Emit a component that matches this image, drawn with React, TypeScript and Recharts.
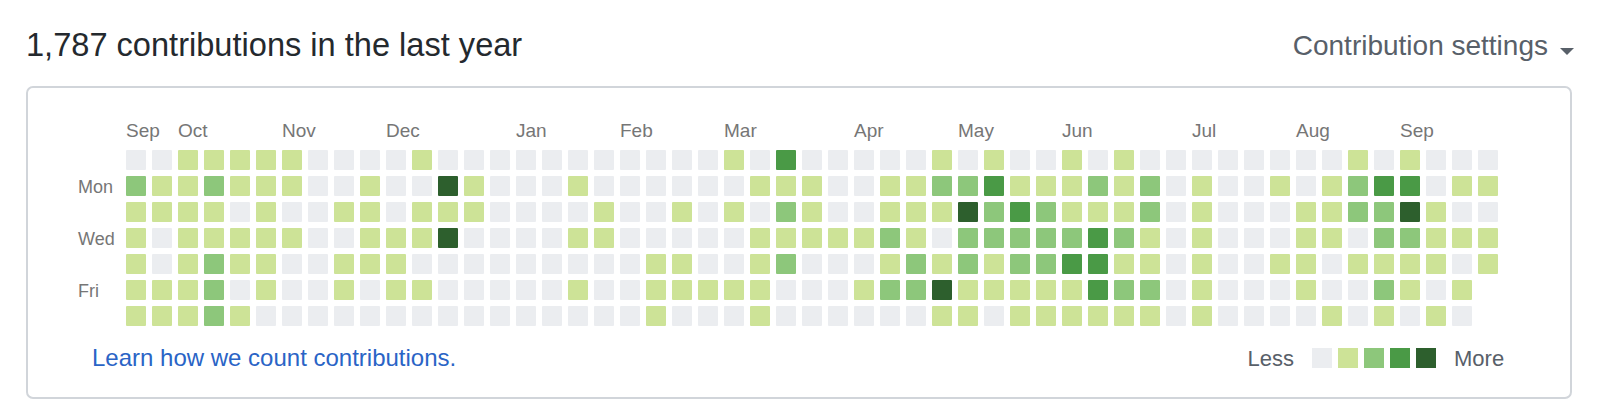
import React from "react";
import { ScatterChart, Scatter, XAxis, YAxis } from "recharts";

// contribution level (0-4) per week column, one array per weekday
const sunLevels = [0, 0, 1, 1, 1, 1, 1, 0, 0, 0, 0, 1, 0, 0, 0, 0, 0, 0, 0, 0, 0, 0, 0, 1, 0, 3, 0, 0, 0, 0, 0, 1, 0, 1, 0, 0, 1, 0, 1, 0, 0, 0, 0, 0, 0, 0, 0, 1, 0, 1, 0, 0, 0];
const monLevels = [2, 1, 1, 2, 1, 1, 1, 0, 0, 1, 0, 0, 4, 1, 0, 0, 0, 1, 0, 0, 0, 0, 0, 0, 1, 1, 1, 0, 0, 1, 1, 2, 2, 3, 1, 1, 1, 2, 1, 2, 0, 1, 0, 0, 1, 0, 1, 2, 3, 3, 0, 1, 1];
const tueLevels = [1, 1, 1, 1, 0, 1, 0, 0, 1, 1, 0, 1, 1, 1, 0, 0, 0, 0, 1, 0, 0, 1, 0, 1, 0, 2, 1, 0, 0, 1, 1, 1, 4, 2, 3, 2, 1, 1, 1, 2, 0, 1, 0, 0, 0, 1, 1, 2, 2, 4, 1, 0, 0];
const wedLevels = [1, 0, 1, 1, 1, 1, 1, 0, 0, 1, 1, 1, 4, 0, 0, 0, 0, 1, 1, 0, 0, 0, 0, 0, 1, 1, 1, 1, 1, 2, 1, 0, 2, 2, 2, 2, 2, 3, 2, 1, 0, 1, 0, 0, 0, 1, 1, 0, 2, 2, 1, 1, 1];
const thuLevels = [1, 0, 1, 2, 1, 1, 0, 0, 1, 1, 1, 0, 0, 0, 0, 0, 0, 0, 0, 0, 1, 1, 0, 0, 1, 2, 0, 0, 0, 1, 2, 1, 2, 1, 2, 2, 3, 3, 1, 1, 0, 1, 0, 0, 1, 1, 0, 1, 1, 1, 1, 0, 1];
const friLevels = [1, 1, 1, 2, 0, 1, 0, 0, 1, 0, 1, 1, 0, 0, 0, 0, 0, 1, 0, 0, 1, 1, 1, 1, 1, 0, 0, 0, 1, 2, 2, 4, 1, 1, 1, 1, 1, 3, 2, 2, 0, 1, 0, 0, 0, 1, 0, 0, 2, 1, 0, 1, null];
const satLevels = [1, 1, 1, 2, 1, 0, 0, 0, 0, 0, 0, 0, 0, 0, 0, 0, 0, 0, 0, 0, 1, 0, 0, 0, 1, 0, 0, 0, 0, 0, 0, 1, 1, 0, 1, 1, 1, 1, 1, 1, 0, 1, 0, 0, 0, 0, 1, 0, 1, 0, 1, 0, null];

const dayLabels = ["", "Mon", "", "Wed", "", "Fri", ""];
const monthCols = [0, 2, 6, 10, 15, 19, 23, 28, 32, 36, 41, 45, 49];
const monthNames = ["Sep", "Oct", "Nov", "Dec", "Jan", "Feb", "Mar", "Apr", "May", "Jun", "Jul", "Aug", "Sep"];
const levelColors = ["#ebedf0", "#cde397", "#8dc77b", "#4a9a46", "#2d5f2d"];

const weekdays = [sunLevels, monLevels, tueLevels, wedLevels, thuLevels, friLevels, satLevels];

const cells = weekdays.flatMap((levels, day) =>
  levels
    .map((level, week) => ({ week, day, level }))
    .filter((c) => c.level !== null)
);

const FONT = '"Liberation Sans", Arial, sans-serif';

function Cell(props: any) {
  const { cx, cy, payload } = props;
  return <rect x={cx - 10} y={cy - 10} width={20} height={20} rx={1} fill={levelColors[payload.level]} />;
}

function MonthTick({ x, y, payload }: any) {
  const i = monthCols.indexOf(payload.value);
  return (
    <text x={x - 10} y={y - 10.5} fontSize={19} fill="#767676" fontFamily={FONT} textAnchor="start">
      {monthNames[i]}
    </text>
  );
}

function DayTick({ x, y, payload }: any) {
  return (
    <text x={x - 45} y={y + 6.5} fontSize={18} fill="#767676" fontFamily={FONT} textAnchor="start">
      {dayLabels[payload.value]}
    </text>
  );
}

export default function App() {
  return (
    <div style={{ position: "absolute", left: 0, top: 0, width: 1602, height: 400, background: "#fff", overflow: "hidden" }}>
      <svg width={1602} height={400} style={{ position: "absolute", left: 0, top: 0 }} fontFamily={FONT}>
        <rect x={27} y={87} width={1544} height={311} rx={6} fill="none" stroke="#d1d5da" strokeWidth={2} />
        <text x={26} y={56} fontSize={32.6} fill="#24292e">1,787 contributions in the last year</text>
        <text x={1548} y={55} fontSize={28} fill="#586069" textAnchor="end">Contribution settings</text>
        <polygon points="1560,48 1574,48 1567,55" fill="#586069" />
        <text x={92} y={366} fontSize={24} fill="#2a64c6">Learn how we count contributions.</text>
        <text x={1294} y={366} fontSize={22} fill="#586069" textAnchor="end">Less</text>
        {levelColors.map((c, i) => (
          <rect key={i} x={1312 + i * 26} y={348} width={20} height={20} fill={c} />
        ))}
        <text x={1454} y={366} fontSize={22} fill="#586069">More</text>
      </svg>
      <div style={{ position: "absolute", left: 0, top: 0 }}>
        <ScatterChart width={1602} height={400} margin={{ top: 117, right: 101, bottom: 71, left: 78 }}>
          <XAxis
            type="number"
            dataKey="week"
            orientation="top"
            domain={[-0.5, 52.5]}
            allowDataOverflow
            ticks={monthCols}
            interval={0}
            height={30}
            tickSize={0}
            tickMargin={0}
            axisLine={false}
            tickLine={false}
            tick={<MonthTick />}
          />
          <YAxis
            type="number"
            dataKey="day"
            domain={[-0.5, 6.5]}
            allowDataOverflow
            reversed
            ticks={[1, 3, 5]}
            interval={0}
            width={45}
            tickSize={0}
            tickMargin={0}
            axisLine={false}
            tickLine={false}
            tick={<DayTick />}
          />
          <Scatter data={cells} shape={<Cell />} isAnimationActive={false} />
        </ScatterChart>
      </div>
    </div>
  );
}
